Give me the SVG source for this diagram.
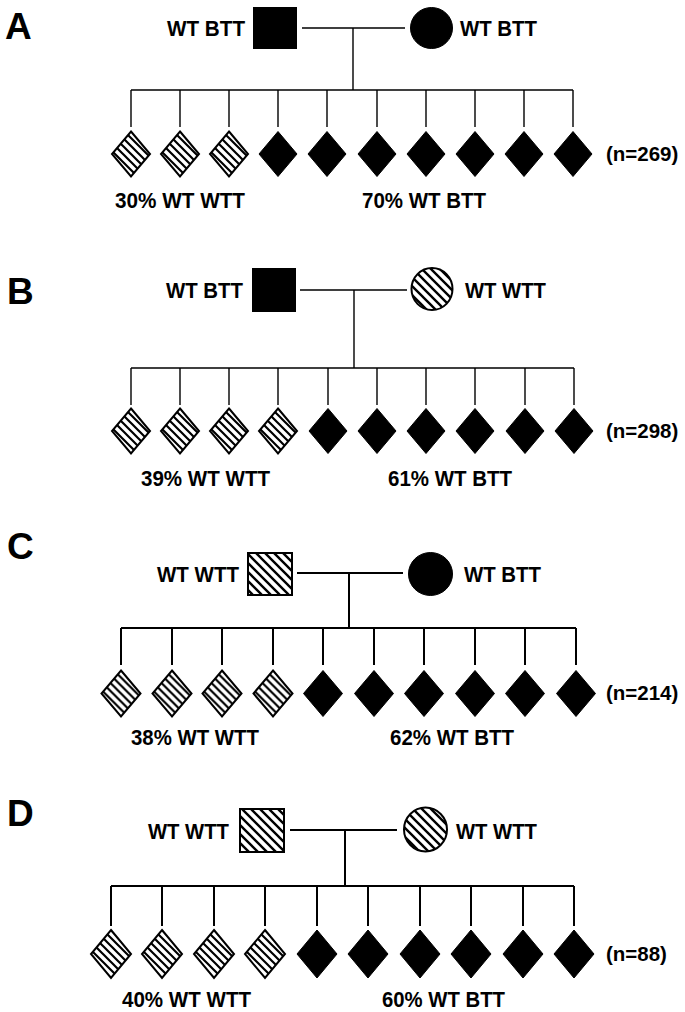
<svg xmlns="http://www.w3.org/2000/svg" width="685" height="1012" viewBox="0 0 685 1012">
<defs>
<pattern id="hp" patternUnits="userSpaceOnUse" width="9" height="9">
<rect x="0" y="0" width="9" height="9" fill="#fff"/>
<path d="M-1,-1L10,10M-3,6L3,12M6,-3L12,3" stroke="#000" stroke-width="2.4"/>
</pattern>
<pattern id="hd" patternUnits="userSpaceOnUse" width="8" height="8">
<rect x="0" y="0" width="8" height="8" fill="#fff"/>
<path d="M-1,-1L9,9M-3,5L3,11M5,-3L11,3" stroke="#000" stroke-width="2.2"/>
</pattern>
<polygon id="dA" points="0,-22.5 19,0 0,22.5 -19,0"/>
<polygon id="dB" points="0,-22.5 19,0 0,22.5 -19,0"/>
<polygon id="dC" points="0,-23 19.5,0 0,23 -19.5,0"/>
<polygon id="dD" points="0,-24 20,0 0,24 -20,0"/>
</defs>
<style>
text{font-family:"Liberation Sans",Arial,sans-serif;font-weight:bold;fill:#000}
.pl{font-size:37px}
.lb{font-size:22.5px}
.n{font-size:20.5px}
.blk{fill:#000;stroke:#000;stroke-width:1}
.hat{fill:url(#hp);stroke:#000;stroke-width:2}
.hd{fill:url(#hd);stroke:#000;stroke-width:2}
.c1{stroke:#000;stroke-width:1.4;fill:none}
.c2{stroke:#000;stroke-width:2;fill:none}
</style>
<rect width="685" height="1012" fill="#fff"/>

<!-- Panel A -->
<g id="panelA">
<text class="pl" x="5" y="39">A</text>
<g id="A_father"><rect class="blk" x="253.5" y="7.5" width="43" height="41"/><text class="lb" x="245" y="36" text-anchor="end" textLength="78" lengthAdjust="spacingAndGlyphs">WT BTT</text></g>
<g id="A_mother"><ellipse class="blk" cx="431.5" cy="28" rx="21" ry="20.5"/><text class="lb" x="460" y="36" textLength="77" lengthAdjust="spacingAndGlyphs">WT BTT</text></g>
<g id="A_connectors" class="c1">
<path d="M302 28H405M353 28V90M131 90H573M131 90V127M180 90V127M229 90V127M278 90V127M327 90V127M377 90V127M426 90V127M475 90V127M524 90V127M573 90V127"/>
</g>
<g id="A_children">
<use href="#dA" x="131" y="154" class="hd"/>
<use href="#dA" x="180" y="154" class="hd"/>
<use href="#dA" x="229" y="154" class="hd"/>
<use href="#dA" x="278" y="154" class="blk"/>
<use href="#dA" x="327" y="154" class="blk"/>
<use href="#dA" x="377" y="154" class="blk"/>
<use href="#dA" x="426" y="154" class="blk"/>
<use href="#dA" x="475" y="154" class="blk"/>
<use href="#dA" x="524" y="154" class="blk"/>
<use href="#dA" x="573" y="154" class="blk"/>
</g>
<text class="n" x="606" y="161">(n=269)</text>
<text class="lb" x="115" y="208" textLength="130" lengthAdjust="spacingAndGlyphs">30% WT WTT</text>
<text class="lb" x="362" y="208" textLength="124" lengthAdjust="spacingAndGlyphs">70% WT BTT</text>
</g>

<!-- Panel B -->
<g id="panelB">
<text class="pl" x="7" y="304">B</text>
<g id="B_father"><rect class="blk" x="252.5" y="268.5" width="43" height="43"/><text class="lb" x="243" y="298" text-anchor="end" textLength="77" lengthAdjust="spacingAndGlyphs">WT BTT</text></g>
<g id="B_mother"><ellipse class="hat" cx="432" cy="289" rx="20.5" ry="21"/><text class="lb" x="465" y="298" textLength="81" lengthAdjust="spacingAndGlyphs">WT WTT</text></g>
<g id="B_connectors" class="c1">
<path d="M300 290H407M354 290V368M131 368H574M131 368V405M180 368V405M229 368V405M278 368V405M328 368V405M377 368V405M426 368V405M475 368V405M525 368V405M574 368V405"/>
</g>
<g id="B_children">
<use href="#dB" x="131" y="431" class="hd"/>
<use href="#dB" x="180" y="431" class="hd"/>
<use href="#dB" x="229" y="431" class="hd"/>
<use href="#dB" x="278" y="431" class="hd"/>
<use href="#dB" x="328" y="431" class="blk"/>
<use href="#dB" x="377" y="431" class="blk"/>
<use href="#dB" x="426" y="431" class="blk"/>
<use href="#dB" x="475" y="431" class="blk"/>
<use href="#dB" x="525" y="431" class="blk"/>
<use href="#dB" x="574" y="431" class="blk"/>
</g>
<text class="n" x="606" y="438">(n=298)</text>
<text class="lb" x="141" y="486" textLength="129" lengthAdjust="spacingAndGlyphs">39% WT WTT</text>
<text class="lb" x="388" y="486" textLength="124" lengthAdjust="spacingAndGlyphs">61% WT BTT</text>
</g>

<!-- Panel C -->
<g id="panelC">
<text class="pl" x="7" y="559">C</text>
<g id="C_father"><rect class="hat" x="248" y="553" width="44" height="42"/><text class="lb" x="239" y="582" text-anchor="end" textLength="82" lengthAdjust="spacingAndGlyphs">WT WTT</text></g>
<g id="C_mother"><ellipse class="blk" cx="430.5" cy="574" rx="22" ry="21.5"/><text class="lb" x="464" y="582" textLength="77" lengthAdjust="spacingAndGlyphs">WT BTT</text></g>
<g id="C_connectors" class="c2">
<path d="M297 573H403M349 573V628M121 628H576M121 628V665M172 628V665M222 628V665M273 628V665M323 628V665M374 628V665M424 628V665M475 628V665M525 628V665M576 628V665"/>
</g>
<g id="C_children">
<use href="#dC" x="121" y="693.5" class="hd"/>
<use href="#dC" x="172" y="693.5" class="hd"/>
<use href="#dC" x="222" y="693.5" class="hd"/>
<use href="#dC" x="273" y="693.5" class="hd"/>
<use href="#dC" x="323" y="693.5" class="blk"/>
<use href="#dC" x="374" y="693.5" class="blk"/>
<use href="#dC" x="424" y="693.5" class="blk"/>
<use href="#dC" x="475" y="693.5" class="blk"/>
<use href="#dC" x="525" y="693.5" class="blk"/>
<use href="#dC" x="576" y="693.5" class="blk"/>
</g>
<text class="n" x="606" y="700">(n=214)</text>
<text class="lb" x="131" y="745" textLength="128" lengthAdjust="spacingAndGlyphs">38% WT WTT</text>
<text class="lb" x="390" y="745" textLength="124" lengthAdjust="spacingAndGlyphs">62% WT BTT</text>
</g>

<!-- Panel D -->
<g id="panelD">
<text class="pl" x="7" y="826">D</text>
<g id="D_father"><rect class="hat" x="240" y="809" width="44" height="43"/><text class="lb" x="229" y="839" text-anchor="end" textLength="81" lengthAdjust="spacingAndGlyphs">WT WTT</text></g>
<g id="D_mother"><ellipse class="hat" cx="425.5" cy="829.5" rx="21.5" ry="22"/><text class="lb" x="456" y="839" textLength="81" lengthAdjust="spacingAndGlyphs">WT WTT</text></g>
<g id="D_connectors" class="c2">
<path d="M290 830H397M345 830V886M111 886H574M111 886V926M162 886V926M214 886V926M265 886V926M317 886V926M368 886V926M420 886V926M471 886V926M523 886V926M574 886V926"/>
</g>
<g id="D_children">
<use href="#dD" x="111" y="954" class="hd"/>
<use href="#dD" x="162" y="954" class="hd"/>
<use href="#dD" x="214" y="954" class="hd"/>
<use href="#dD" x="265" y="954" class="hd"/>
<use href="#dD" x="317" y="954" class="blk"/>
<use href="#dD" x="368" y="954" class="blk"/>
<use href="#dD" x="420" y="954" class="blk"/>
<use href="#dD" x="471" y="954" class="blk"/>
<use href="#dD" x="523" y="954" class="blk"/>
<use href="#dD" x="574" y="954" class="blk"/>
</g>
<text class="n" x="606" y="961">(n=88)</text>
<text class="lb" x="122" y="1007" textLength="129" lengthAdjust="spacingAndGlyphs">40% WT WTT</text>
<text class="lb" x="382" y="1007" textLength="123" lengthAdjust="spacingAndGlyphs">60% WT BTT</text>
</g>
</svg>
